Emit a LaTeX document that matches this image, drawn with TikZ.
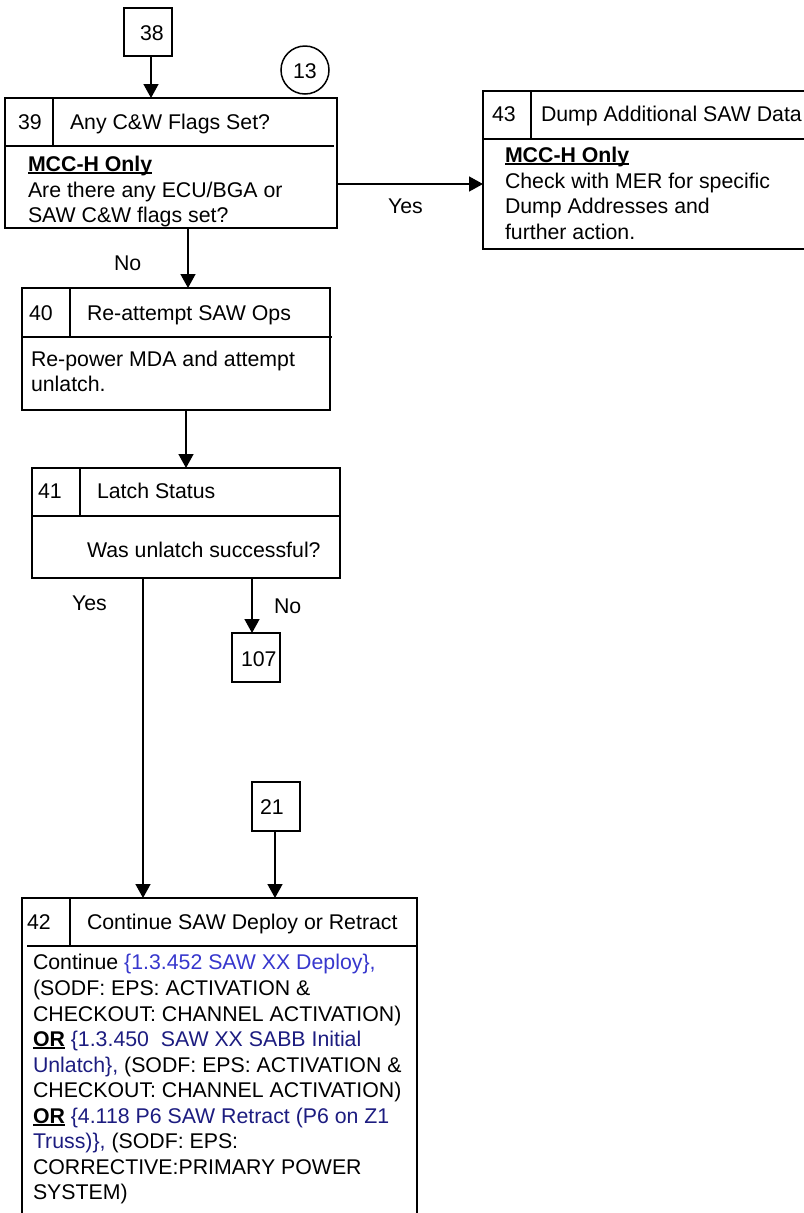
\documentclass[tikz,border=0pt]{standalone}
\usepackage{fontspec}
\setmainfont{Liberation Sans}
\usetikzlibrary{arrows.meta}
\definecolor{lblue}{RGB}{55,55,205}
\definecolor{navyb}{RGB}{28,28,128}
\newcommand\myul[1]{\setbox0\hbox{#1}\rlap{\rule[-2.6bp]{\wd0}{1.8bp}}\box0\relax}
\begin{document}
\begin{tikzpicture}[x=1bp,y=-1bp,
  every node/.style={font=\fontsize{21.3bp}{25.6bp}\selectfont, inner sep=0pt, outer sep=0pt},
  boxline/.style={draw, line width=1.8bp},
  frame/.style={boxline, rectangle, anchor=north west},
  txt/.style={anchor=base west},
  divline/.style={line width=1.8bp},
  arr/.style={line width=1.5bp, -{Triangle[width=15bp,length=14bp]}}]
\useasboundingbox (0,0) rectangle (804,1213);

% box 38
\node[frame, minimum width=48bp, minimum height=48bp] (n38) at (124,8) {};
\node[txt] (t38) at (140,40) {38};
% circle 13
\node[boxline, circle, minimum size=48bp, line width=1.5bp] (c13) at (305,70) {};
\node[txt] (t13) at (293,78) {13};

% box 39
\node[frame, minimum width=332bp, minimum height=130bp] (b39) at (5,98) {};
\draw[divline] (5,146) -- (334,146);
\draw[divline] (53,98) -- (53,146);
\node[txt] (t39n) at (18,129) {39};
\node[txt] (t39h) at (70,129) {Any C\&W Flags Set?};
\node[txt] (t39a) at (28,171) {\myul{\bfseries MCC-H Only}};
\node[txt] (t39b) at (28,197) {Are there any ECU/BGA or};
\node[txt] (t39c) at (28,222) {SAW C\&W flags set?};

% box 43
\node[frame, minimum width=330bp, minimum height=158bp] (b43) at (483,91) {};
\draw[divline] (483,139) -- (813,139);
\draw[divline] (531,91) -- (531,139);
\node[txt] (t43n) at (492,121) {43};
\node[txt] (t43h) at (541,121) {Dump Additional SAW Data};
\node[txt] (t43a) at (505,162) {\myul{\bfseries MCC-H Only}};
\node[txt] (t43b) at (505,188) {Check with MER for specific};
\node[txt] (t43c) at (505,213) {Dump Addresses and};
\node[txt] (t43d) at (505,239) {further action.};

% box 40
\node[frame, minimum width=308bp, minimum height=122bp] (b40) at (22,288) {};
\draw[divline] (22,337) -- (332,337);
\draw[divline] (70,288) -- (70,337);
\node[txt] (t40n) at (29,320) {40};
\node[txt] (t40h) at (87,320) {Re-attempt SAW Ops};
\node[txt] (t40a) at (31,366) {Re-power MDA and attempt};
\node[txt] (t40b) at (31,391) {unlatch.};

% box 41
\node[frame, minimum width=308bp, minimum height=110bp] (b41) at (32,468) {};
\draw[divline] (32,516) -- (340,516);
\draw[divline] (80,468) -- (80,516);
\node[txt] (t41n) at (38,498) {41};
\node[txt] (t41h) at (97,498) {Latch Status};
\node[txt] (t41a) at (87,557) {Was unlatch successful?};

% box 107
\node[frame, minimum width=48bp, minimum height=49bp] (b107) at (232,633) {};
\node[txt] (t107) at (241,666) {107};

% box 21
\node[frame, minimum width=48bp, minimum height=49bp] (b21) at (252,782) {};
\node[txt] (t21) at (260,814) {21};

% box 42
\node[frame, minimum width=395bp, minimum height=330bp] (b42) at (22,898) {};
\draw[divline] (27,946) -- (417,946);
\draw[divline] (70,898) -- (70,946);
\node[txt] (t42n) at (27,929) {42};
\node[txt] (t42h) at (87,929) {Continue SAW Deploy or Retract};
\node[txt] (t42a) at (33,969) {Continue \textcolor{lblue}{\{1.3.452 SAW XX Deploy\},}};
\node[txt] (t42b) at (33,995) {(SODF: EPS: ACTIVATION \&};
\node[txt] (t42c) at (33,1021) {CHECKOUT: CHANNEL ACTIVATION)};
\node[txt] (t42d) at (33,1046) {\myul{\bfseries OR} \textcolor{navyb}{\{1.3.450\ \ SAW XX SABB Initial}};
\node[txt] (t42e) at (33,1072) {\textcolor{navyb}{Unlatch\},} (SODF: EPS: ACTIVATION \&};
\node[txt] (t42f) at (33,1097) {CHECKOUT: CHANNEL ACTIVATION)};
\node[txt] (t42g) at (33,1123) {\myul{\bfseries OR} \textcolor{navyb}{\{4.118 P6 SAW Retract (P6 on Z1}};
\node[txt] (t42h2) at (33,1148) {\textcolor{navyb}{Truss)\},} (SODF: EPS:};
\node[txt] (t42i) at (33,1174) {CORRECTIVE:PRIMARY POWER};
\node[txt] (t42j) at (33,1199) {SYSTEM)};

% connector labels
\node[txt] (lyes1) at (388,213) {Yes};
\node[txt] (lno1) at (114,270) {No};
\node[txt] (lyes2) at (72,610) {Yes};
\node[txt] (lno2) at (274,613) {No};

% connectors
\draw[arr] ([xshift=3bp]n38.south) -- ([xshift=3bp]n38.south |- b39.north);
\draw[arr] ([yshift=-21bp]b39.east) -- ([yshift=-21bp]b39.east -| b43.west);
\draw[arr] ([xshift=17bp]b39.south) -- ([xshift=17bp]b39.south |- b40.north);
\draw[arr] ([xshift=10bp]b40.south) -- ([xshift=10bp]b40.south |- b41.north);
\draw[arr] ([xshift=-43bp]b41.south) -- ([xshift=-43bp]b41.south |- b42.north);
\draw[arr] ([xshift=66bp]b41.south) -- ([xshift=66bp]b41.south |- b107.north);
\draw[arr] ([xshift=-1bp]b21.south) -- ([xshift=-1bp]b21.south |- b42.north);
\end{tikzpicture}
\end{document}
